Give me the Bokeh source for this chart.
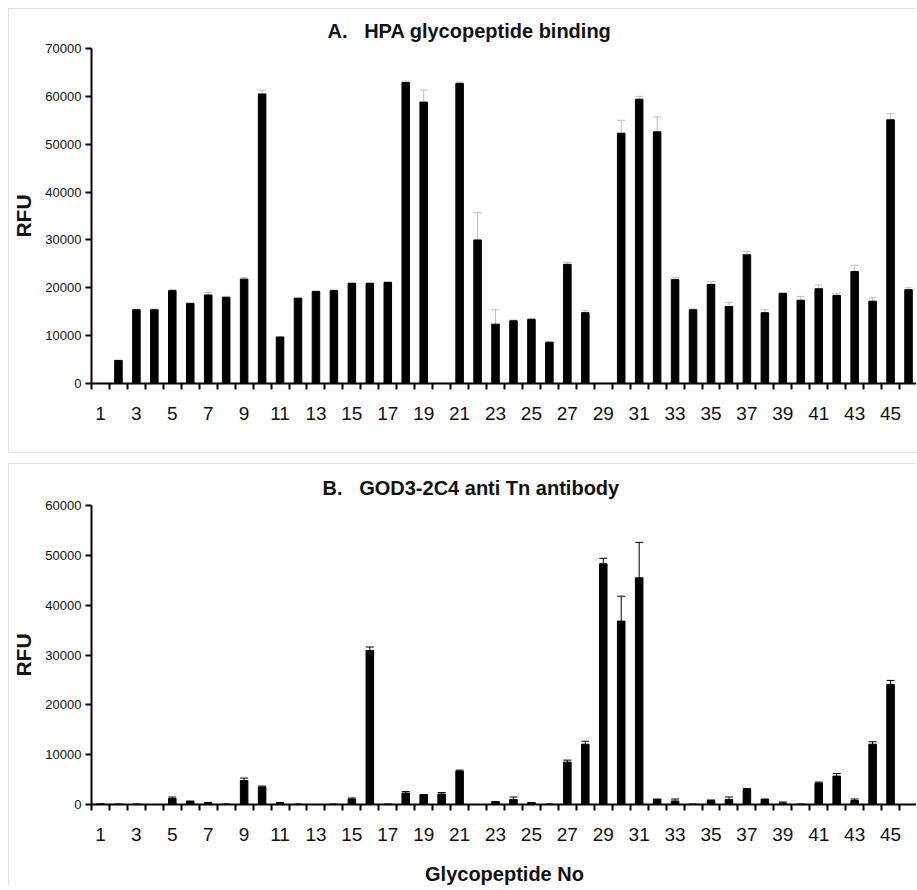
from bokeh.plotting import figure
from bokeh.models import Range1d, FixedTicker, ColumnDataSource, Whisker, TeeHead
from bokeh.layouts import column
from bokeh.embed import file_html
from bokeh.resources import INLINE

# ---------------- data ----------------
hpa_no = list(range(1, 47))
hpa_rfu = [0, 4800, 15400, 15400, 19400, 16700, 18500, 18000, 21800, 60500,
           9700, 17800, 19200, 19400, 20900, 20900, 21100, 62900, 58800, 0,
           62700, 30000, 12400, 13100, 13400, 8600, 24900, 14800, 0, 52300,
           59400, 52600, 21700, 15400, 20700, 16100, 26900, 14800, 18800, 17400,
           19800, 18400, 23400, 17200, 55100, 19600]
hpa_err = [0, 100, 150, 150, 200, 150, 500, 200, 300, 800,
           100, 200, 150, 150, 200, 200, 200, 300, 2500, 0,
           300, 5700, 3000, 150, 200, 150, 400, 400, 0, 2700,
           600, 3100, 400, 150, 600, 800, 700, 600, 200, 800,
           800, 400, 1300, 700, 1300, 400]

god_no = list(range(1, 46))
god_rfu = [150, 100, 100, 0, 1200, 600, 200, 100, 4800, 3500,
           200, 100, 0, 100, 1100, 30900, 100, 2300, 1900, 2100,
           6700, 0, 600, 1000, 300, 100, 8500, 12100, 48300, 36800,
           45500, 1100, 700, 100, 800, 1000, 3000, 1100, 300, 100,
           4300, 5700, 800, 12100, 24100]
god_err = [0, 0, 0, 0, 300, 100, 200, 0, 500, 200,
           200, 0, 0, 0, 200, 700, 0, 300, 100, 300,
           200, 0, 0, 500, 100, 0, 400, 600, 1100, 5000,
           7100, 0, 400, 0, 100, 500, 200, 0, 200, 0,
           200, 500, 300, 500, 800]

x_tick_values = list(range(1, 46, 2))
x_tick_labels = [str(v) for v in x_tick_values]
x_boundaries = [i + 0.5 for i in range(0, 47)]

title_a = "A.\u00a0\u00a0\u00a0HPA glycopeptide binding"
title_b = "B.\u00a0\u00a0\u00a0GOD3-2C4 anti Tn antibody"
y_label = "RFU"
x_label = "Glycopeptide No"

FONT = "Liberation Sans"
BORDER = "1px solid #e2e2e2"


def make_panel(title, nums, vals, errs, ymax, err_color, height, mb_bottom,
               mb_top, title_offset, styles, xlabel=None):
    p = figure(width=908, height=height, output_backend="svg",
               toolbar_location=None,
               x_range=Range1d(0.5, 46.5), y_range=Range1d(0, ymax),
               min_border_left=80, min_border_right=0,
               min_border_top=mb_top, min_border_bottom=mb_bottom)
    p.styles = styles
    p.outline_line_color = None
    p.xgrid.visible = False
    p.ygrid.visible = False
    p.background_fill_color = "white"
    p.border_fill_color = "white"

    p.title.text = title
    p.title.align = "left"
    p.title.offset = title_offset
    p.title.standoff = 14
    p.title.text_font = FONT
    p.title.text_font_size = "20px"
    p.title.text_font_style = "bold"
    p.title.text_color = "#111111"

    p.vbar(x=nums, top=vals, width=0.42, fill_color="black",
           line_color="black")

    xs = [n for n, e in zip(nums, errs) if e > 0]
    lo = [v for v, e in zip(vals, errs) if e > 0]
    hi = [v + e for v, e in zip(vals, errs) if e > 0]
    src = ColumnDataSource(dict(x=xs, lower=lo, upper=hi))
    w = Whisker(source=src, base="x", lower="lower", upper="upper",
                dimension="height", line_color=err_color, line_width=1,
                upper_head=TeeHead(size=8, line_color=err_color, line_width=1),
                lower_head=None)
    p.add_layout(w)

    # x axis
    xa = p.xaxis[0]
    xa.ticker = FixedTicker(ticks=x_tick_values, minor_ticks=x_boundaries)
    xa.major_label_overrides = {v: l for v, l in zip(x_tick_values, x_tick_labels)}
    xa.major_tick_out = 0
    xa.major_tick_in = 0
    xa.minor_tick_out = 6
    xa.minor_tick_in = 0
    xa.minor_tick_line_width = 2
    xa.minor_tick_line_color = "black"
    xa.axis_line_width = 2
    xa.axis_line_color = "black"
    xa.major_label_text_font = FONT
    xa.major_label_text_font_size = "19px"
    xa.major_label_text_color = "#111111"
    xa.major_label_standoff = 17
    if xlabel:
        xa.axis_label = xlabel
        xa.axis_label_text_font = FONT
        xa.axis_label_text_font_size = "20px"
        xa.axis_label_text_font_style = "bold"
        xa.axis_label_text_color = "#111111"
        xa.axis_label_standoff = 19

    # y axis
    ya = p.yaxis[0]
    ya.ticker = FixedTicker(ticks=list(range(0, ymax + 1, 10000)))
    ya.major_tick_out = 6
    ya.major_tick_in = 0
    ya.minor_tick_out = 0
    ya.minor_tick_in = 0
    ya.major_tick_line_width = 2
    ya.major_tick_line_color = "black"
    ya.axis_line_width = 2
    ya.axis_line_color = "black"
    ya.major_label_text_font = FONT
    ya.major_label_text_font_size = "13px"
    ya.major_label_text_color = "#111111"
    ya.major_label_standoff = 4
    ya.axis_label = y_label
    ya.axis_label_text_font = FONT
    ya.axis_label_text_font_size = "21px"
    ya.axis_label_text_font_style = "bold"
    ya.axis_label_text_color = "#111111"
    ya.axis_label_standoff = 7
    return p


pA = make_panel(title_a, hpa_no, hpa_rfu, hpa_err, 70000, "#bdbdbd",
                445, 71, 39, 236,
                {"border-top": BORDER, "border-left": BORDER,
                 "border-bottom": BORDER})
pB = make_panel(title_b, god_no, god_rfu, god_err, 60000, "black",
                423, 83, 41, 231,
                {"border-top": BORDER, "border-left": BORDER},
                xlabel=x_label)

layout = column(pA, pB, spacing=10, margin=(8, 0, 0, 8))

with open("out.html", "w") as f:
    f.write(file_html(layout, INLINE))
